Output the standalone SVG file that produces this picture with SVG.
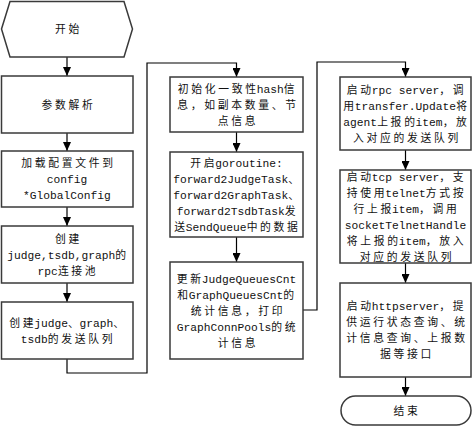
<svg xmlns="http://www.w3.org/2000/svg" width="473" height="435" viewBox="0 0 473 435">
<defs>
<style>
.box{fill:#fff;stroke:#3a3a3a;stroke-width:1.5}
.t{font-family:"Noto Sans CJK SC","Noto Sans",sans-serif;font-size:10.8px;letter-spacing:2.7px;fill:#111;text-anchor:middle}
.m{font-family:"Liberation Mono",monospace;font-size:11.25px;letter-spacing:0}
.e{letter-spacing:0}
.c{fill:none;stroke:#000;stroke-width:1.2}
</style>
<marker id="ah" markerUnits="userSpaceOnUse" markerWidth="9" markerHeight="8" refX="9" refY="4" orient="auto">
<path d="M0,0 L9,4 L0,8 z" fill="#000"/>
</marker>
</defs>
<rect width="473" height="435" fill="#fff"/>
<g id="connectors">
<path class="c" d="M67 57 V76" marker-end="url(#ah)"/>
<path class="c" d="M67 133 V151" marker-end="url(#ah)"/>
<path class="c" d="M67 207 V226" marker-end="url(#ah)"/>
<path class="c" d="M67 283 V302" marker-end="url(#ah)"/>
<path class="c" d="M67 359 V373 H147 V63 H236.5 V77" marker-end="url(#ah)"/>
<path class="c" d="M236.5 132 V152" marker-end="url(#ah)"/>
<path class="c" d="M236.5 237 V262" marker-end="url(#ah)"/>
<path class="c" d="M303 310 H317 V62 H405.5 V77" marker-end="url(#ah)"/>
<path class="c" d="M405.5 150 V170" marker-end="url(#ah)"/>
<path class="c" d="M405.5 263 V283" marker-end="url(#ah)"/>
<path class="c" d="M405.5 377 V396" marker-end="url(#ah)"/>
</g>
<g id="start">
<polygon class="box" points="1.5,29 10,1.5 124,1.5 132.5,29 124,57 10,57"/>
<text class="t" x="68.5" y="33">开始</text>
</g>
<g id="parse">
<rect class="box" x="1.5" y="76" width="131.5" height="57"/>
<text class="t" x="68.5" y="108.5">参数解析</text>
</g>
<g id="loadconfig">
<rect class="box" x="1.5" y="151" width="131.5" height="56"/>
<text class="t"><tspan x="68.5" y="167">加载配置文件到</tspan><tspan x="67" y="183"><tspan class="m">config</tspan></tspan><tspan x="67" y="199"><tspan class="m">*GlobalConfig</tspan></tspan></text>
</g>
<g id="rpcpool">
<rect class="box" x="1.5" y="226" width="131.5" height="57"/>
<text class="t"><tspan x="68.5" y="242.5">创建</tspan><tspan x="68" y="258.5"><tspan class="m">judge,tsdb,graph</tspan>的</tspan><tspan x="68" y="274.5"><tspan class="m">rpc</tspan>连接池</tspan></text>
</g>
<g id="sendqueue">
<rect class="box" x="1.5" y="302" width="131.5" height="57"/>
<text class="t"><tspan x="68" y="326.5">创<tspan class="e">建</tspan><tspan class="m" dx="0.7">judge</tspan><tspan class="e">、</tspan><tspan class="m" dx="0.7">graph</tspan>、</tspan><tspan x="68" y="342.5"><tspan class="m">tsdb</tspan>的发送队列</tspan></text>
</g>
<g id="hashinit">
<rect class="box" x="170" y="77" width="133" height="55"/>
<text class="t"><tspan x="237.5" y="92.5">初始化一致<tspan class="e">性</tspan><tspan class="m" dx="0.7">hash</tspan>信</tspan><tspan x="238" y="108.5">息，如副本数量、节</tspan><tspan x="238" y="124.5">点信息</tspan></text>
</g>
<g id="goroutine">
<rect class="box" x="170" y="152" width="133" height="85"/>
<text class="t"><tspan x="236.5" y="166.5">开<tspan class="e">启</tspan><tspan class="m" dx="0.7">goroutine:</tspan></tspan><tspan x="237.5" y="182.5"><tspan class="m">forward2JudgeTask</tspan>、</tspan><tspan x="237.5" y="198.5"><tspan class="m">forward2GraphTask</tspan>、</tspan><tspan x="237.5" y="214.5"><tspan class="m">forward2TsdbTask</tspan>发</tspan><tspan x="237.5" y="230.5"><tspan class="e">送</tspan><tspan class="m" dx="0.7">SendQueue</tspan>中的数据</tspan></text>
</g>
<g id="updatecnt">
<rect class="box" x="170" y="262" width="133" height="97"/>
<text class="t"><tspan x="236.5" y="282.5">更<tspan class="e">新</tspan><tspan class="m" dx="0.7">JudgeQueuesCnt</tspan></tspan><tspan x="237" y="298.5"><tspan class="e">和</tspan><tspan class="m" dx="0.7">GraphQueuesCnt</tspan>的</tspan><tspan x="238" y="314.5">统计信息，打印</tspan><tspan x="237.5" y="330.5"><tspan class="m">GraphConnPools</tspan>的统</tspan><tspan x="238" y="346.5">计信息</tspan></text>
</g>
<g id="rpcserver">
<rect class="box" x="340" y="77" width="131" height="73"/>
<text class="t"><tspan x="406.5" y="93.5">启<tspan class="e">动</tspan><tspan class="m" dx="0.7">rpc server</tspan>，调</tspan><tspan x="406.5" y="109.5"><tspan class="e">用</tspan><tspan class="m" dx="0.7">transfer.Update</tspan>将</tspan><tspan x="406.5" y="125.5"><tspan class="m">agent</tspan>上报<tspan class="e">的</tspan><tspan class="m" dx="0.7">item</tspan>，放</tspan><tspan x="407" y="141.5">入对应的发送队列</tspan></text>
</g>
<g id="tcpserver">
<rect class="box" x="340" y="170" width="131" height="93"/>
<text class="t"><tspan x="406.5" y="181">启<tspan class="e">动</tspan><tspan class="m" dx="0.7">tcp server</tspan>，支</tspan><tspan x="406.5" y="197">持使<tspan class="e">用</tspan><tspan class="m" dx="0.7">telnet</tspan>方式按</tspan><tspan x="406.5" y="213">行上<tspan class="e">报</tspan><tspan class="m" dx="0.7">item</tspan>，调用</tspan><tspan x="405.5" y="229"><tspan class="m">socketTelnetHandle</tspan></tspan><tspan x="406.5" y="245">将上报<tspan class="e">的</tspan><tspan class="m" dx="0.7">item</tspan>，放入</tspan><tspan x="407" y="261">对应的发送队列</tspan></text>
</g>
<g id="httpserver">
<rect class="box" x="340" y="283" width="131" height="94"/>
<text class="t"><tspan x="406.5" y="310">启<tspan class="e">动</tspan><tspan class="m" dx="0.7">httpserver</tspan>，提</tspan><tspan x="407" y="326">供运行状态查询、统</tspan><tspan x="407" y="342">计信息查询、上报数</tspan><tspan x="407" y="358">据等接口</tspan></text>
</g>
<g id="end">
<rect class="box" x="341" y="396" width="130" height="29" rx="14.5" ry="14.5"/>
<text class="t" x="407" y="414.5">结束</text>
</g>
</svg>
